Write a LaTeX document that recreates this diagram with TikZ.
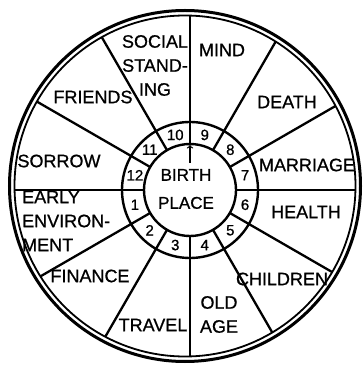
\documentclass[tikz,border=0pt]{standalone}
\usepackage{fontspec}
\setmainfont{Liberation Sans}
\newfontfamily\handfont{Liberation Sans}[FakeBold=0.8]
\begin{document}
\begin{tikzpicture}[x=1pt, y=1pt,
    lbl/.style={font=\handfont\fontsize{18}{24}\selectfont, align=center, inner sep=0pt},
    num/.style={font=\handfont\fontsize{15}{15}\selectfont, inner sep=0pt}]
    \useasboundingbox (0,0) rectangle (362,367);
    \coordinate (rim) at (185,181);
    \coordinate (hub) at (190,177);
    % double rim
    \draw[line width=3pt] (rim) circle (175.5);
    \draw[line width=1.8pt] (rim) circle (170.5);
    % ring round the birth place
    \draw[line width=2.4pt] (hub) circle (68);
    \draw[line width=2.4pt] (hub) circle (46);
    % spokes
    \begin{scope}
        \clip (rim) circle (170.5);
        \foreach \a in {0,30,...,330}
            \draw[line width=2.3pt] ([shift={(\a:46)}]hub) -- ([shift={(\a:200)}]hub);
    \end{scope}
    % house numbers
    \foreach \n [evaluate=\n as \ang using 30*\n-195] in {1,...,12}
        \node[num] (h\n) at ([shift={(\ang:57)}]hub) {\n};
    % sectors
    \node[lbl] (social) at (155,301.5) {SOCIAL\\STAND-\\ING};
    \node[lbl] (mind) at (222,317) {MIND};
    \node[lbl] (death) at (287,265) {DEATH};
    \node[lbl] (marriage) at (307,202) {MARRIAGE};
    \node[lbl] (health) at (306,155) {HEALTH};
    \node[lbl] (children) at (282,88) {CHILDREN};
    \node[lbl] (oldage) at (219,52.5) {OLD\\AGE};
    \node[lbl] (travel) at (153,42) {TRAVEL};
    \node[lbl] (finance) at (90,91) {FINANCE};
    \node[lbl, anchor=west, align=left] (early) at (22,146) {EARLY\\ENVIRON-\\MENT};
    \node[lbl] (sorrow) at (59,206) {SORROW};
    \node[lbl] (friends) at (93,270) {FRIENDS};
    % centre
    \node[lbl, font=\handfont\fontsize{17}{28}\selectfont] (birth) at (186,178) {BIRTH\\PLACE};
    \coordinate (tail) at ([shift={(90:27)}]hub);
    \coordinate (apex) at ([shift={(90:45)}]hub);
    \draw[->, line width=1.3pt] (tail) -- (apex);
\end{tikzpicture}
\end{document}
